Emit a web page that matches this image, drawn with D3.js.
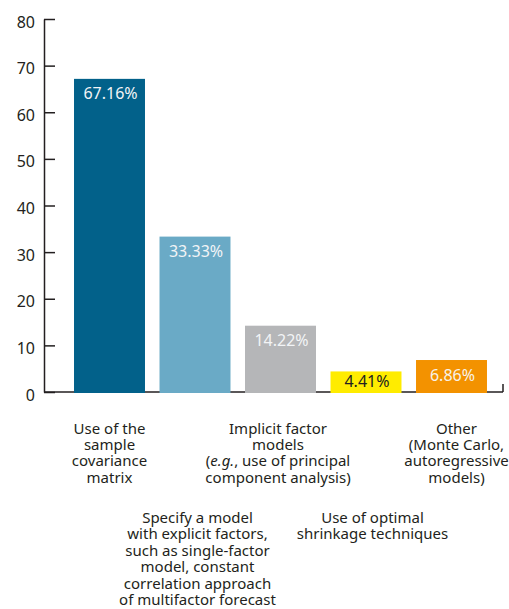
<!DOCTYPE html>
<html>
<head>
<meta charset="utf-8">
<script src="https://cdn.jsdelivr.net/npm/d3@7/dist/d3.min.js"></script>
<style>
  html, body { margin: 0; padding: 0; background: #ffffff; }
  svg { display: block; }
  .tick text { font-family: "Noto Sans", sans-serif; font-size: 16px; fill: #231f20; }
  .cat { font-family: "Noto Sans", sans-serif; font-size: 15px; fill: #231f20; }
  .val { font-family: "Noto Sans", sans-serif; font-size: 16px; }
</style>
</head>
<body>
<svg id="chart" width="509" height="609"></svg>
<script>
// Covariance estimation methods (share of respondents, %)
const categories = ["sample", "explicit", "implicit", "shrinkage", "other"];
const values = [67.16, 33.33, 14.22, 4.41, 6.86];
const valueLabels = ["67.16%", "33.33%", "14.22%", "4.41%", "6.86%"];
const barColors = ["#02618a", "#6aaac6", "#b5b6b8", "#ffec00", "#f39200"];
const valueColors = ["#f2f4f6", "#f2f4f6", "#f2f4f6", "#231f20", "#f7f2ea"];
const yTicks = [0, 10, 20, 30, 40, 50, 60, 70, 80];

// Category captions: each entry is a list of lines; italic runs marked with *...*
const captions = [
  ["Use of the", "sample", "covariance", "matrix"],
  ["Specify a model", "with explicit factors,", "such as single-factor", "model, constant", "correlation approach", "of multifactor forecast"],
  ["Implicit factor", "models", "(*e.g.*, use of principal", "component analysis)"],
  ["Use of optimal", "shrinkage techniques"],
  ["Other", "(Monte Carlo,", "autoregressive", "models)"]
];
// captions alternate between an upper and a lower row
const captionRow = [0, 1, 0, 1, 0];

const svg = d3.select("#chart");

const x = d3.scaleBand()
  .domain(categories)
  .range([66.75, 494.25])
  .paddingInner(0.17)
  .paddingOuter(0.085);

const y = d3.scaleLinear()
  .domain([0, 80])
  .range([392, 19]);

const axisX = 44;
const axisColor = "#231f20";

// baseline along the bottom, with a short end tick on the right
const baseRight = 503;
svg.append("line")
  .attr("x1", axisX).attr("x2", baseRight)
  .attr("y1", y(0)).attr("y2", y(0))
  .attr("stroke", axisColor).attr("stroke-width", 1.5);
svg.append("line")
  .attr("x1", baseRight).attr("x2", baseRight)
  .attr("y1", y(0)).attr("y2", y(0) - 8)
  .attr("stroke", axisColor).attr("stroke-width", 1.5);

// vertical axis with inward ticks
const yAxis = d3.axisLeft(y)
  .tickValues(yTicks)
  .tickFormat(d3.format("d"))
  .tickSizeInner(-11)
  .tickSizeOuter(0)
  .tickPadding(9);

const gy = svg.append("g")
  .attr("transform", `translate(${axisX},0)`)
  .call(yAxis);
gy.select(".domain").attr("stroke", axisColor).attr("stroke-width", 1.5);
gy.selectAll(".tick line").attr("stroke", axisColor).attr("stroke-width", 1.5);
gy.selectAll(".tick text").attr("dy", "0.5em");

// bars
const bars = svg.append("g");
bars.selectAll("rect")
  .data(values)
  .join("rect")
  .attr("x", (d, i) => x(categories[i]))
  .attr("y", d => y(d))
  .attr("width", x.bandwidth())
  .attr("height", d => y(0) - y(d) + 1)
  .attr("fill", (d, i) => barColors[i]);

// value labels inside the bars; short bars get their label centred vertically
svg.append("g").selectAll("text")
  .data(values)
  .join("text")
  .attr("class", "val")
  .attr("text-anchor", "middle")
  .attr("x", (d, i) => x(categories[i]) + x.bandwidth() / 2 + 1)
  .attr("y", d => Math.min(y(d) + 20.5, (y(d) + y(0)) / 2 + 5.5))
  .attr("fill", (d, i) => valueColors[i])
  .text((d, i) => valueLabels[i]);

// category captions
const captionShift = [0, 2.5, -2.5, 6.5, 5];
const rowTop = [433.5, 523];
const lineH = 16.4;

captions.forEach((lines, i) => {
  const cx = x(categories[i]) + x.bandwidth() / 2 + captionShift[i];
  const t = svg.append("text")
    .attr("class", "cat")
    .attr("text-anchor", "middle");
  lines.forEach((line, j) => {
    const ly = rowTop[captionRow[i]] + j * lineH;
    const parts = line.split("*");
    const first = t.append("tspan").attr("x", cx).attr("y", ly);
    parts.forEach((p, k) => {
      const target = k === 0 ? first : t.append("tspan");
      target.text(p);
      if (k % 2 === 1) target.attr("font-style", "italic");
    });
  });
});
</script>
</body>
</html>
